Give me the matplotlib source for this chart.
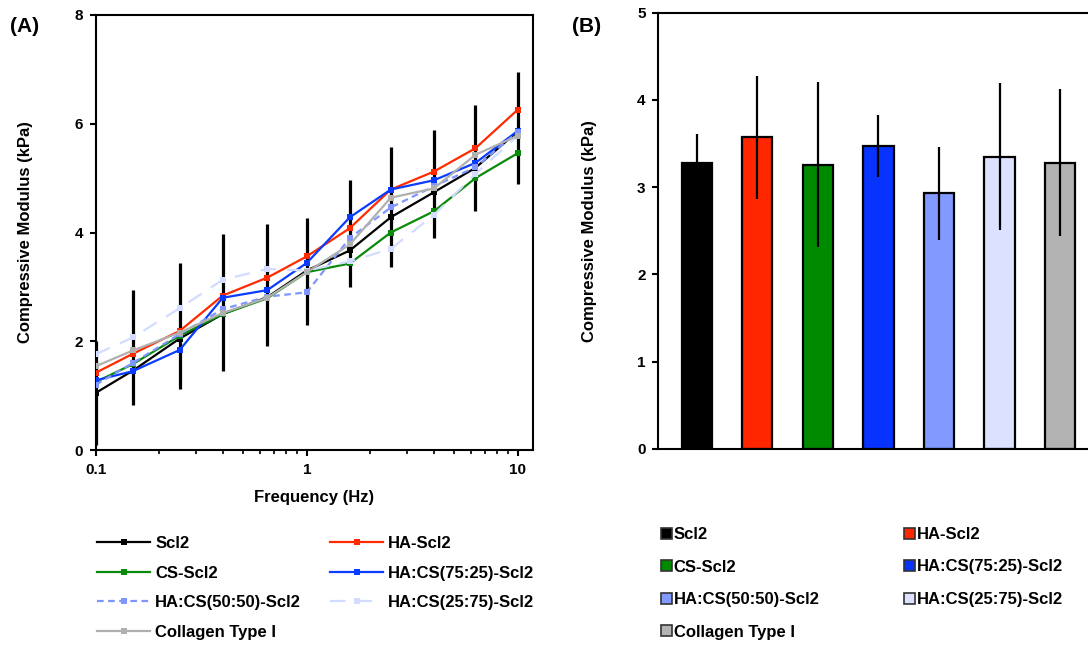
import matplotlib
matplotlib.use("Agg")
import matplotlib.pyplot as plt
from matplotlib.patches import Patch
import numpy as np

plt.rcParams['font.family'] = ['Liberation Sans', 'DejaVu Sans']
plt.rcParams['font.weight'] = 'bold'

# ---------------- data ----------------
freq = [0.1, 0.15, 0.25, 0.4, 0.65, 1.0, 1.6, 2.5, 4.0, 6.3, 10.0]
scl2 = [1.05, 1.46, 2.05, 2.50, 2.81, 3.30, 3.67, 4.28, 4.74, 5.19, 5.86]
ha_scl2 = [1.42, 1.77, 2.19, 2.84, 3.17, 3.56, 4.08, 4.79, 5.12, 5.55, 6.26]
cs_scl2 = [1.25, 1.58, 2.10, 2.50, 2.79, 3.27, 3.43, 4.00, 4.39, 5.00, 5.46]
ha75 = [1.28, 1.45, 1.84, 2.80, 2.94, 3.44, 4.28, 4.79, 4.96, 5.28, 5.87]
ha50 = [1.20, 1.60, 2.13, 2.59, 2.82, 2.90, 3.90, 4.46, 4.85, 5.20, 5.85]
ha25 = [1.76, 2.07, 2.61, 3.13, 3.33, 3.30, 3.47, 3.70, 4.32, 5.08, 5.78]
collagen = [1.54, 1.83, 2.16, 2.52, 2.80, 3.27, 3.78, 4.64, 4.81, 5.43, 5.78]
scl2_err_low = [0.95, 0.64, 0.92, 1.04, 0.89, 1.00, 0.68, 0.92, 0.84, 0.79, 0.97]
scl2_err_high = [0.95, 1.49, 1.39, 1.48, 1.35, 0.97, 1.29, 1.29, 1.14, 1.15, 1.09]

labels = ['Scl2', 'HA-Scl2', 'CS-Scl2', 'HA:CS(75:25)-Scl2',
          'HA:CS(50:50)-Scl2', 'HA:CS(25:75)-Scl2', 'Collagen Type I']
bar_means = [3.28, 3.57, 3.26, 3.47, 2.93, 3.35, 3.28]
bar_err = [0.33, 0.70, 0.95, 0.355, 0.535, 0.84, 0.84]

line_colors = ['#000000', '#ff2a00', '#0a8a0a', '#0a3cff', '#7f96ff', '#d3dcff', '#b0b0b0']
bar_colors = ['#000000', '#ff2600', '#008a00', '#0833ff', '#8299ff', '#dbe1ff', '#b3b3b3']
line_styles = ['-', '-', '-', '-', (0, (3, 2)), (0, (7, 5)), '-']
series = [scl2, ha_scl2, cs_scl2, ha75, ha50, ha25, collagen]

fig = plt.figure(figsize=(10.88, 6.51), dpi=100)

# ---------------- panel A ----------------
axA = fig.add_axes([95.7/1088, 1-450/651, (533-95.7)/1088, (450-15)/651])
axA.errorbar(freq, scl2, yerr=[scl2_err_low, scl2_err_high], fmt='none',
             ecolor='black', elinewidth=2.3, capsize=0, zorder=1)
handles = []
for s, c, ls, lab in zip(series, line_colors, line_styles, labels):
    h, = axA.plot(freq, s, color=c, linestyle=ls, linewidth=1.6, marker='s',
                  markersize=4.5, markeredgewidth=0, label=lab, zorder=3)
    handles.append(h)
axA.set_xscale('log')
axA.set_xlim(0.1, 11.8)
axA.set_ylim(0, 8)
axA.set_yticks([0, 2, 4, 6, 8])
axA.set_xticks([0.1, 1, 10])
axA.set_xticklabels(['0.1', '1', '10'])
axA.set_xlabel('Frequency (Hz)', fontsize=12, fontweight='bold', labelpad=10)
axA.set_ylabel('Compressive Modulus (kPa)', fontsize=12, fontweight='bold', labelpad=30)
for sp in axA.spines.values():
    sp.set_linewidth(1.5)
axA.tick_params(axis='both', which='major', direction='out', length=4, width=1.5,
                labelsize=11, pad=5)
axA.tick_params(axis='x', which='minor', direction='out', length=3, width=1.2)
for t in axA.get_xticklabels() + axA.get_yticklabels():
    t.set_fontweight('bold')

fig.text(10/1088, 1-26/651, '(A)', fontsize=15, fontweight='bold', va='center', ha='left')

col1 = [handles[i] for i in (0, 2, 4, 6)]
col2 = [handles[i] for i in (1, 3, 5)]
for hs, x0 in ((col1, 97), (col2, 330)):
    fig.legend(hs, [h.get_label() for h in hs], loc='upper left',
               bbox_to_anchor=(x0/1088, 1-536/651), frameon=False, fontsize=12,
               handlelength=3.2, handletextpad=0.3, labelspacing=0.88,
               borderpad=0, borderaxespad=0, numpoints=1)

# ---------------- panel B ----------------
ux = 60.55 / 1088
axB = fig.add_axes([658/1088, 1-449/651, 7.28*ux, (449-12.7)/651])
xpos = np.arange(len(labels))
axB.bar(xpos, bar_means, width=0.5, color=bar_colors, edgecolor='black',
        linewidth=1.6, zorder=2)
axB.errorbar(xpos, bar_means, yerr=bar_err, fmt='none', ecolor='black',
             elinewidth=1.6, capsize=0, zorder=3)
axB.set_xlim(-0.64, 6.64)
axB.set_ylim(0, 5)
axB.set_yticks([0, 1, 2, 3, 4, 5])
axB.set_xticks([])
axB.set_ylabel('Compressive Modulus (kPa)', fontsize=12, fontweight='bold', labelpad=29)
for sp in axB.spines.values():
    sp.set_linewidth(1.5)
axB.tick_params(axis='y', direction='out', length=4, width=1.5, labelsize=11, pad=5)
for t in axB.get_yticklabels():
    t.set_fontweight('bold')

fig.text(572/1088, 1-26/651, '(B)', fontsize=15, fontweight='bold', va='center', ha='left')

patches = [Patch(facecolor=c, edgecolor='#333333', linewidth=1.2, label=l)
           for c, l in zip(bar_colors, labels)]
pc1 = [patches[i] for i in (0, 2, 4, 6)]
pc2 = [patches[i] for i in (1, 3, 5)]
for ps, x0 in ((pc1, 661), (pc2, 904)):
    fig.legend(ps, [p.get_label() for p in ps], loc='upper left',
               bbox_to_anchor=(x0/1088, 1-527/651), frameon=False, fontsize=12,
               handlelength=0.65, handleheight=0.65, handletextpad=0.12,
               labelspacing=1.05, borderpad=0, borderaxespad=0)

fig.savefig('out.png', dpi=100)
